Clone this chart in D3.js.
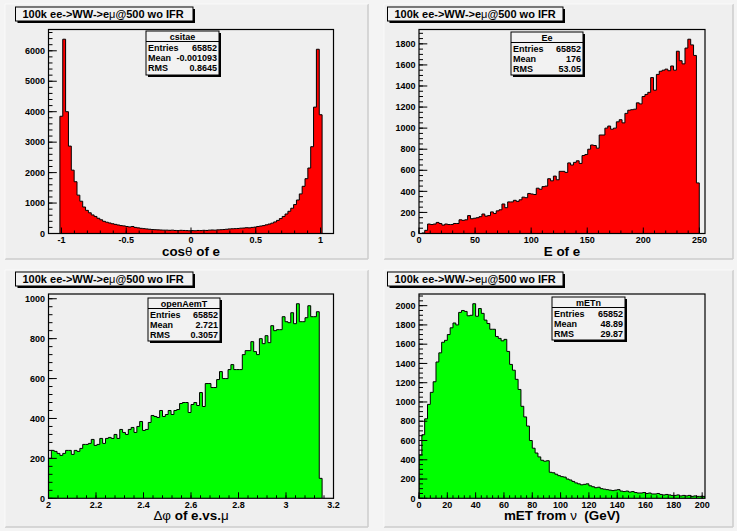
<!DOCTYPE html>
<html><head><meta charset="utf-8">
<script src="https://cdn.jsdelivr.net/npm/d3@7"></script>
<style>
body{margin:0;background:#f4f4f4}
svg{display:block}
text{font-family:"Liberation Sans",Arial,Helvetica,sans-serif;font-weight:bold;fill:#000}
</style>
</head><body>
<svg id="c" width="737" height="531"></svg>
<script>
// ---------------- data ----------------
const padTitle = ["100k ee->WW->e", "μ", "@500 wo IFR"];

const statNames   = ["csitae", "Ee", "openAemT", "mETn"];
const statEntries = ["65852", "65852", "65852", "65852"];
const statMean    = ["-0.001093", "176", "2.721", "48.89"];
const statRMS     = ["0.8645", "53.05", "0.3057", "29.87"];

// histogram 1 : cos(theta) of e, 100 bins on [-1.1, 1.1], filled from bin 4
const csitaeRange = [-1.1, 1.1];
const csitaeNBins = 100;
const csitaeFirstBin = 4;
const csitaeCounts = [
 3850,6380,4000,2870,2080,1700,1260,1060,870,760,680,610,560,500,450,400,370,345,320,300,
 280,260,250,230,215,230,200,185,170,160,150,140,130,125,120,115,110,110,105,110,100,95,105,100,95,90,
 95,90,100,95,105,100,110,115,110,120,125,130,140,150,155,160,165,175,180,190,185,200,210,230,245,260,
 285,310,340,380,430,490,560,640,730,830,950,1100,1300,1550,1800,2150,2850,4150,6050,3900];
const csitaeXTicks = [-1, -0.5, 0, 0.5, 1];
const csitaeXLabels = ["-1", "-0.5", "0", "0.5", "1"];
const csitaeYTicks = [0, 1000, 2000, 3000, 4000, 5000, 6000];

// histogram 2 : E of e, 100 bins on [0, 255]
const eeRange = [0, 255];
const eeNBins = 100;
const eeFirstBin = 0;
const eeCounts = [
 0,5,30,90,85,90,105,95,80,90,
 85,85,95,95,130,125,130,170,140,145,
 150,160,185,165,170,205,190,215,225,280,
 245,300,300,315,305,320,345,340,380,375,
 370,430,420,445,450,520,500,545,510,590,
 590,580,670,650,675,690,665,740,750,800,
 840,835,810,935,935,1000,1020,990,1000,1060,
 1080,1050,1140,1170,1175,1180,1240,1230,1300,1320,
 1340,1480,1360,1510,1540,1550,1560,1545,1590,1550,
 1730,1640,1610,1760,1844,1790,1690,480];
const eeXTicks = [0, 50, 100, 150, 200, 250];
const eeXLabels = ["0", "50", "100", "150", "200", "250"];
const eeYTicks = [0, 200, 400, 600, 800, 1000, 1200, 1400, 1600, 1800];

// histogram 3 : delta phi of e vs mu, 100 bins on [2, 3.2]
const dphiRange = [2, 3.2];
const dphiNBins = 100;
const dphiFirstBin = 0;
const dphiCounts = [
 200,240,235,225,215,225,240,240,220,
 240,235,250,270,270,275,295,265,
 270,300,275,300,305,300,320,300,
 345,330,320,345,355,330,360,385,340,
 345,380,415,410,405,440,410,420,
 440,420,440,445,475,480,480,430,470,480,465,530,460,575,575,555,555,595,
 635,600,600,645,670,645,645,645,720,740,740,785,735,720,800,775,815,780,
 865,840,845,845,910,885,880,930,875,975,885,885,905,965,910,910,935,100];
const dphiXTicks = [2, 2.2, 2.4, 2.6, 2.8, 3, 3.2];
const dphiXLabels = ["2", "2.2", "2.4", "2.6", "2.8", "3", "3.2"];
const dphiYTicks = [0, 200, 400, 600, 800, 1000];

// histogram 4 : missing ET, 101 bins on [0, 202]
const metRange = [0, 202];
const metNBins = 101;
const metFirstBin = 0;
const metCounts = [
 450,660,825,975,1100,1210,1415,1510,1620,1640,1700,1770,1820,1800,1930,1950,1940,1895,1900,2020,
 1890,1970,1920,1850,1815,1755,1755,1680,1660,1635,1650,1525,1390,1330,1235,1130,955,845,750,
 600,520,470,430,395,385,390,270,265,250,235,225,220,200,190,175,160,150,140,145,150,
 130,120,110,115,100,95,90,85,80,85,90,75,70,75,65,70,60,55,55,60,
 50,55,45,45,50,40,35,40,35,30,30,35,25,30,25,30,20,25,20,20,20];
const metXTicks = [0, 20, 40, 60, 80, 100, 120, 140, 160, 180, 200];
const metXLabels = ["0", "20", "40", "60", "80", "100", "120", "140", "160", "180", "200"];
const metYTicks = [0, 200, 400, 600, 800, 1000, 1200, 1400, 1600, 1800, 2000];

// axis titles: [text piece, is-greek]
const axisTitles = [
  [["cos",0],["θ",1],[" of e",0]],
  [["E of e",0]],
  [["Δφ",1],[" of e.vs.",0],["μ",1]],
  [["mET from ",0],["ν",1],["\u00a0\u00a0(GeV)",0]]
];

// ---------------- layout (drawing only) ----------------
const hists = [
  {range:csitaeRange, nb:csitaeNBins, first:csitaeFirstBin, counts:csitaeCounts, xt:csitaeXTicks, xl:csitaeXLabels, xminor:0.1, yt:csitaeYTicks, yminor:200, color:"#ff0000"},
  {range:eeRange, nb:eeNBins, first:eeFirstBin, counts:eeCounts, xt:eeXTicks, xl:eeXLabels, xminor:10, yt:eeYTicks, yminor:50, color:"#ff0000"},
  {range:dphiRange, nb:dphiNBins, first:dphiFirstBin, counts:dphiCounts, xt:dphiXTicks, xl:dphiXLabels, xminor:0.04, yt:dphiYTicks, yminor:40, color:"#00ff00"},
  {range:metRange, nb:metNBins, first:metFirstBin, counts:metCounts, xt:metXTicks, xl:metXLabels, xminor:4, yt:metYTicks, yminor:50, color:"#00ff00"}
];
const layout = [
  {pad:[5,4,368,259],   frame:[48.5,29.5,333.5,233.5], title:[15.5,7,193,21],   stats:[146,31,219,75]},
  {pad:[384,4,733,259], frame:[419,29.5,705,233.5],    title:[387.5,7,563,21],  stats:[511,32,583,75]},
  {pad:[5,270,368,527], frame:[48.5,294,333.5,498.3],  title:[15.5,272,193,286],stats:[148,298,220,341]},
  {pad:[384,270,733,527],frame:[419,294,705,498.3],    title:[387.5,272,563,286],stats:[552,297,625,340]}
];

const svg = d3.select("#c");
svg.append("rect").attr("width",737).attr("height",531).attr("fill","#f4f4f4");

layout.forEach((L,i)=>{
  const h = hists[i];
  const g = svg.append("g");
  const [px1,py1,px2,py2] = L.pad;
  g.append("rect").attr("x",px1).attr("y",py1).attr("width",px2-px1).attr("height",py2-py1).attr("fill","#efefef");
  g.append("line").attr("x1",px1).attr("y1",py2).attr("x2",px2).attr("y2",py2).attr("stroke","#cdcdcd").attr("stroke-width",1.5);
  g.append("line").attr("x1",px2).attr("y1",py1).attr("x2",px2).attr("y2",py2).attr("stroke","#cdcdcd").attr("stroke-width",1.5);
  g.append("line").attr("x1",px1).attr("y1",py1).attr("x2",px2).attr("y2",py1).attr("stroke","#fafafa");
  g.append("line").attr("x1",px1).attr("y1",py1).attr("x2",px1).attr("y2",py2).attr("stroke","#fafafa");

  const [fx1,fy1,fx2,fy2] = L.frame;
  const x = d3.scaleLinear().domain(h.range).range([fx1,fx2]);
  const ymax = 1.05*d3.max(h.counts);
  const y = d3.scaleLinear().domain([0,ymax]).range([fy2,fy1]);
  const bw = (h.range[1]-h.range[0])/h.nb;

  const clipId = "clip"+i;
  svg.append("clipPath").attr("id",clipId).append("rect")
     .attr("x",fx1).attr("y",fy1).attr("width",fx2-fx1).attr("height",fy2-fy1);

  // histogram vertices
  const pts = [[h.range[0]+h.first*bw, 0]];
  h.counts.forEach((c,k)=>{
    const lo = h.range[0]+(h.first+k)*bw;
    pts.push([lo,c]); pts.push([lo+bw,c]);
  });
  pts.push([h.range[0]+(h.first+h.counts.length)*bw, 0]);
  const line = d3.line().x(d=>x(d[0])).y(d=>y(d[1]));
  g.append("path").attr("d",line(pts)).attr("fill",h.color).attr("stroke","#000")
   .attr("stroke-width",1).attr("clip-path",`url(#${clipId})`);

  // y ticks
  const yMinor = d3.range(0, ymax, h.yminor);
  g.selectAll(null).data(yMinor).enter().append("line")
   .attr("x1",fx1).attr("x2",fx1+4).attr("y1",d=>y(d)).attr("y2",d=>y(d)).attr("stroke","#000");
  g.selectAll(null).data(h.yt).enter().append("line")
   .attr("x1",fx1).attr("x2",fx1+8.3).attr("y1",d=>y(d)).attr("y2",d=>y(d)).attr("stroke","#000");
  g.selectAll(null).data(h.yt).enter().append("text")
   .attr("x",fx1-3.5).attr("y",d=>y(d)+3.2).attr("text-anchor","end").attr("font-size",9).text(d=>d);

  // x ticks
  const nMinor = Math.round((h.range[1]-h.range[0])/h.xminor);
  const xMinor = d3.range(0,nMinor+1).map(k=>h.range[0]+k*h.xminor).filter(v=>v<=h.range[1]+1e-9);
  g.selectAll(null).data(xMinor).enter().append("line")
   .attr("x1",d=>x(d)).attr("x2",d=>x(d)).attr("y1",fy2).attr("y2",fy2-3).attr("stroke","#000");
  g.selectAll(null).data(h.xt).enter().append("line")
   .attr("x1",d=>x(d)).attr("x2",d=>x(d)).attr("y1",fy2).attr("y2",fy2-6).attr("stroke","#000");
  g.selectAll(null).data(h.xt).enter().append("text")
   .attr("x",d=>x(d)).attr("y",fy2+9.3).attr("text-anchor","middle").attr("font-size",9)
   .text((d,k)=>h.xl[k]);

  // frame
  g.append("rect").attr("x",fx1).attr("y",fy1).attr("width",fx2-fx1).attr("height",fy2-fy1)
   .attr("fill","none").attr("stroke","#000").attr("stroke-width",1.2);

  // axis title
  const at = g.append("text").attr("x",(fx1+fx2)/2).attr("y",fy2+22).attr("text-anchor","middle").attr("font-size",13.4);
  axisTitles[i].forEach(([s,greek])=>{
    const t = at.append("tspan").text(s);
    if(greek) t.attr("font-weight","normal");
  });

  // title box
  const [tx1,ty1,tx2,ty2] = L.title;
  g.append("rect").attr("x",tx1+2).attr("y",ty1+2).attr("width",tx2-tx1).attr("height",ty2-ty1).attr("fill","#000");
  g.append("rect").attr("x",tx1).attr("y",ty1).attr("width",tx2-tx1).attr("height",ty2-ty1)
   .attr("fill","#f2f2f2").attr("stroke","#000").attr("stroke-width",1);
  const tt = g.append("text").attr("x",tx1+7).attr("y",ty1+11.3).attr("font-size",11);
  tt.append("tspan").text(padTitle[0]);
  tt.append("tspan").attr("font-weight","normal").text(padTitle[1]);
  tt.append("tspan").text(padTitle[2]);

  // stats box
  const [sx1,sy1,sx2,sy2] = L.stats;
  g.append("rect").attr("x",sx1+2).attr("y",sy1+2).attr("width",sx2-sx1).attr("height",sy2-sy1).attr("fill","#000");
  g.append("rect").attr("x",sx1).attr("y",sy1).attr("width",sx2-sx1).attr("height",sy2-sy1)
   .attr("fill","#f2f2f2").attr("stroke","#000").attr("stroke-width",1);
  g.append("line").attr("x1",sx1).attr("x2",sx2).attr("y1",sy1+10.5).attr("y2",sy1+10.5).attr("stroke","#000");
  g.append("text").attr("x",(sx1+sx2)/2).attr("y",sy1+9).attr("text-anchor","middle").attr("font-size",9).text(statNames[i]);
  const rows = [["Entries",statEntries[i]],["Mean",statMean[i]],["RMS",statRMS[i]]];
  rows.forEach(([lab,val],r)=>{
    const by = sy1+19.8+r*10.2;
    g.append("text").attr("x",sx1+2).attr("y",by).attr("font-size",9).text(lab);
    g.append("text").attr("x",sx2-2).attr("y",by).attr("text-anchor","end").attr("font-size",9).text(val);
  });
});
</script>
</body></html>
